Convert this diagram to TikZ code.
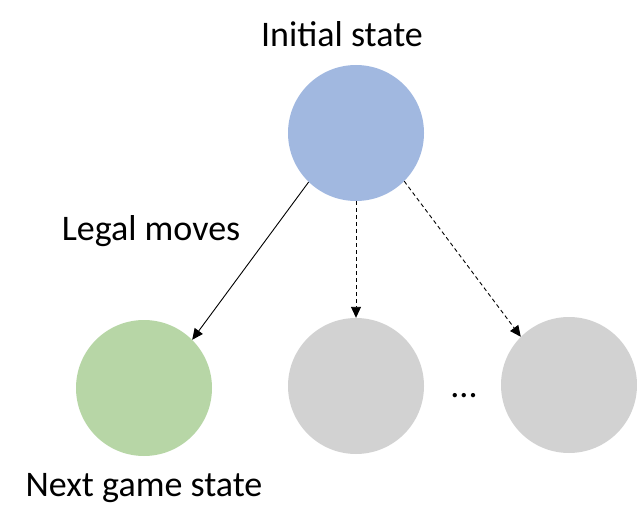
\documentclass[tikz,border=0pt]{standalone}
\usepackage{fontspec}
\setmainfont{Carlito}
\usetikzlibrary{positioning, arrows.meta}

\definecolor{initblue}{RGB}{161,184,224}
\definecolor{nextgreen}{RGB}{183,214,166}
\definecolor{othergray}{RGB}{210,210,210}

\begin{document}
\begin{tikzpicture}[
    x=1bp, y=-1bp,
    state/.style={circle, minimum size=136bp, inner sep=0pt},
    mylabel/.style={font=\fontsize{36bp}{43bp}\selectfont, inner sep=0pt},
    conn/.style={line width=0.9bp},
    >={Triangle[length=11bp, width=10bp]}
    ]
\useasboundingbox (0,0) rectangle (637,529);

\node[state, fill=initblue] (init) at (356,133) {};
\node[state, fill=nextgreen] (next) at (144,388) {};
\node[state, fill=othergray] (s1) at (356,386) {};
\node[state, fill=othergray] (s2) at (569,385) {};

\node[mylabel, above=18bp of init, xshift=-14bp] (initlbl) {Initial state};
\node[mylabel, below=17bp of next] (nextlbl) {Next game state};
\node[mylabel, anchor=base] (moves) at (151,241) {Legal moves};
\node[mylabel, anchor=base] (dots) at (464,397) {...};

\draw[conn, ->] (init.226)--(next.45);
\foreach \i/\j in {init.south/s1.north, init.-45/s2.135}
    \draw[conn, dash pattern=on 4bp off 3bp, ->] (\i)--(\j);

\end{tikzpicture}
\end{document}
